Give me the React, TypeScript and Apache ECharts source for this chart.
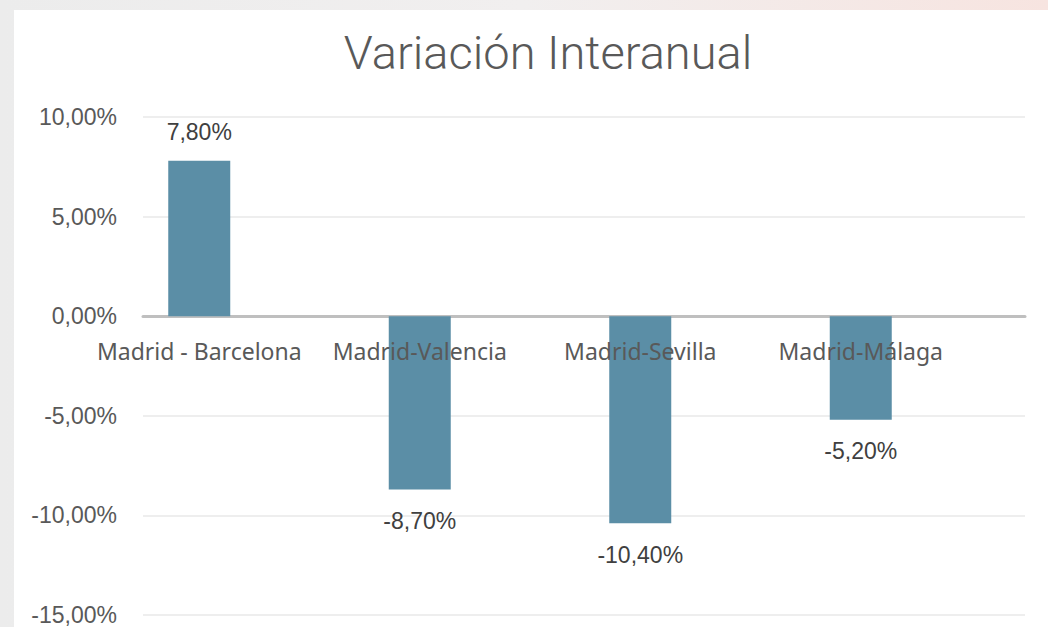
import React, { useEffect, useRef } from "react";
import * as echarts from "echarts";

const categories = ["Madrid - Barcelona", "Madrid-Valencia", "Madrid-Sevilla", "Madrid-Málaga"];
const values = [7.8, -8.7, -10.4, -5.2];
const yMin = -15;
const yMax = 10;
const yInterval = 5;

const fmt = (v: number) => v.toFixed(2).replace(".", ",") + "%";

const gridTop = 117;
const gridBottomPx = 615;
// pixel position of zero on the value scale, used to move the category labels up to the zero line
const zeroPx = gridTop + ((yMax - 0) / (yMax - yMin)) * (gridBottomPx - gridTop);

export default function App() {
  const ref = useRef<HTMLDivElement>(null);
  useEffect(() => {
    if (!ref.current) return;
    const chart = echarts.init(ref.current, null, { renderer: "svg" });
    chart.setOption({
      animation: false,
      backgroundColor: "transparent",
      title: {
        text: "Variación Interanual",
        left: 543,
        textAlign: "center",
        top: 24,
        textStyle: { fontFamily: "Roboto", fontWeight: 300, fontSize: 47, color: "#595959" },
      },
      grid: [
        { left: 143, right: 23, top: gridTop, bottom: 627 - gridBottomPx, outerBoundsMode: "none", containLabel: false },
        { left: 89, right: 77, top: gridTop, bottom: 627 - gridBottomPx, outerBoundsMode: "none", containLabel: false },
      ],
      xAxis: [
        {
          type: "category",
          gridIndex: 0,
          data: categories,
          axisLine: { show: true, onZero: true, lineStyle: { color: "#bfbfbf", width: 3 } },
          axisTick: { show: false },
          axisLabel: { show: false },
          splitLine: { show: false },
        },
        {
          type: "category",
          gridIndex: 1,
          position: "bottom",
          offset: -(gridBottomPx - zeroPx),
          data: categories,
          z: 10,
          axisLine: { show: false, onZero: false },
          axisTick: { show: false },
          axisLabel: {
            show: true,
            margin: 23,
            interval: 0,
            fontFamily: "Noto Sans",
            fontSize: 23,
            color: "#595959",
          },
        },
      ],
      yAxis: [
        {
          type: "value",
          gridIndex: 0,
          min: yMin,
          max: yMax,
          interval: yInterval,
          axisLine: { show: false },
          axisTick: { show: false },
          axisLabel: {
            margin: 26,
            formatter: (v: number) => fmt(v),
            fontFamily: "Liberation Sans",
            fontSize: 23,
            color: "#595959",
          },
          splitLine: { lineStyle: { color: "#eeeeee", width: 2 } },
        },
        {
          type: "value",
          gridIndex: 1,
          min: yMin,
          max: yMax,
          interval: yInterval,
          axisLine: { show: false },
          axisTick: { show: false },
          axisLabel: { show: false },
          splitLine: { show: false },
        },
      ],
      series: [
        {
          type: "bar",
          xAxisIndex: 1,
          yAxisIndex: 1,
          barWidth: 62,
          itemStyle: { color: "#5b8ea6" },
          data: values.map((v) => ({
            value: v,
            label: { position: v >= 0 ? "top" : "bottom", distance: v >= 0 ? 17 : 20 },
          })),
          label: {
            show: true,
            formatter: (p: any) => fmt(p.value),
            fontFamily: "Liberation Sans",
            fontSize: 23,
            color: "#404040",
          },
        },
      ],
    });
    return () => chart.dispose();
  }, []);
  return (
    <div
      style={{
        position: "absolute",
        left: 0,
        top: 0,
        width: 1048,
        height: 627,
        background: "linear-gradient(90deg, #ececec 0%, #f1efef 50%, #f7e4e0 100%)",
        overflow: "hidden",
      }}
    >
      <div style={{ position: "absolute", left: 14, top: 10, right: 0, bottom: 0, background: "#ffffff" }} />
      <div ref={ref} style={{ position: "absolute", left: 0, top: 0, width: 1048, height: 627 }} />
    </div>
  );
}
